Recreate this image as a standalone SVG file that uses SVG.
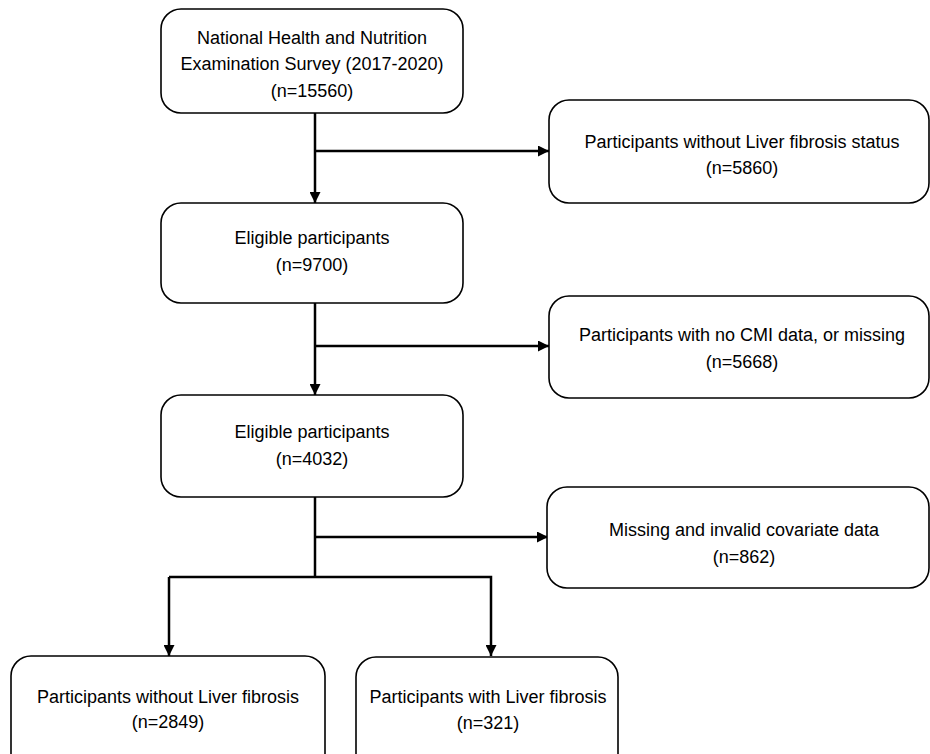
<svg xmlns="http://www.w3.org/2000/svg" width="930" height="754" viewBox="0 0 930 754">
<style>
.box{fill:#fff;stroke:#000;stroke-width:1.6}
.t{font-family:"Liberation Sans",Arial,sans-serif;font-size:18px;fill:#000;text-anchor:middle}
.c{fill:none;stroke:#000;stroke-width:2.5}
</style>
<defs>
<marker id="ah" viewBox="0 0 10 10" refX="10" refY="5" markerWidth="4.4" markerHeight="4.4" markerUnits="strokeWidth" orient="auto">
<path d="M0,0 L10,5 L0,10 z" fill="#000"/>
</marker>
</defs>
<rect width="930" height="754" fill="#fff"/>
<g id="connectors">
<line class="c" x1="315" y1="113" x2="315" y2="203" marker-end="url(#ah)"/>
<line class="c" x1="315" y1="151" x2="549" y2="151" marker-end="url(#ah)"/>
<line class="c" x1="315" y1="303" x2="315" y2="395" marker-end="url(#ah)"/>
<line class="c" x1="315" y1="346" x2="549" y2="346" marker-end="url(#ah)"/>
<line class="c" x1="315" y1="497" x2="315" y2="577"/>
<line class="c" x1="315" y1="537" x2="548" y2="537" marker-end="url(#ah)"/>
<polyline class="c" points="169,577 491,577 491,656" marker-end="url(#ah)"/>
<line class="c" x1="169" y1="577" x2="169" y2="656" marker-end="url(#ah)"/>
</g>
<g id="n1">
<rect class="box" x="161" y="9" width="302" height="104" rx="20"/>
<text class="t" x="312" y="44">National Health and Nutrition</text>
<text class="t" x="312" y="70">Examination Survey (2017-2020)</text>
<text class="t" x="312" y="97">(n=15560)</text>
</g>
<g id="x1">
<rect class="box" x="549" y="100" width="380" height="103" rx="20"/>
<text class="t" x="742" y="148">Participants without Liver fibrosis status</text>
<text class="t" x="742" y="174">(n=5860)</text>
</g>
<g id="n2">
<rect class="box" x="161" y="203" width="302" height="100" rx="20"/>
<text class="t" x="312" y="244">Eligible participants</text>
<text class="t" x="312" y="271">(n=9700)</text>
</g>
<g id="x2">
<rect class="box" x="549" y="296" width="380" height="102" rx="20"/>
<text class="t" x="742" y="341">Participants with no CMI data, or missing</text>
<text class="t" x="742" y="368">(n=5668)</text>
</g>
<g id="n3">
<rect class="box" x="161" y="395" width="302" height="102" rx="20"/>
<text class="t" x="312" y="438">Eligible participants</text>
<text class="t" x="312" y="465">(n=4032)</text>
</g>
<g id="x3">
<rect class="box" x="547" y="487" width="382" height="101" rx="20"/>
<text class="t" x="744" y="536">Missing and invalid covariate data</text>
<text class="t" x="744" y="563">(n=862)</text>
</g>
<g id="n4">
<rect class="box" x="11" y="656" width="314" height="120" rx="20"/>
<text class="t" x="168" y="703">Participants without Liver fibrosis</text>
<text class="t" x="168" y="728">(n=2849)</text>
</g>
<g id="n5">
<rect class="box" x="356" y="657" width="262" height="120" rx="20"/>
<text class="t" x="488" y="703">Participants with Liver fibrosis</text>
<text class="t" x="488" y="729">(n=321)</text>
</g>
</svg>
